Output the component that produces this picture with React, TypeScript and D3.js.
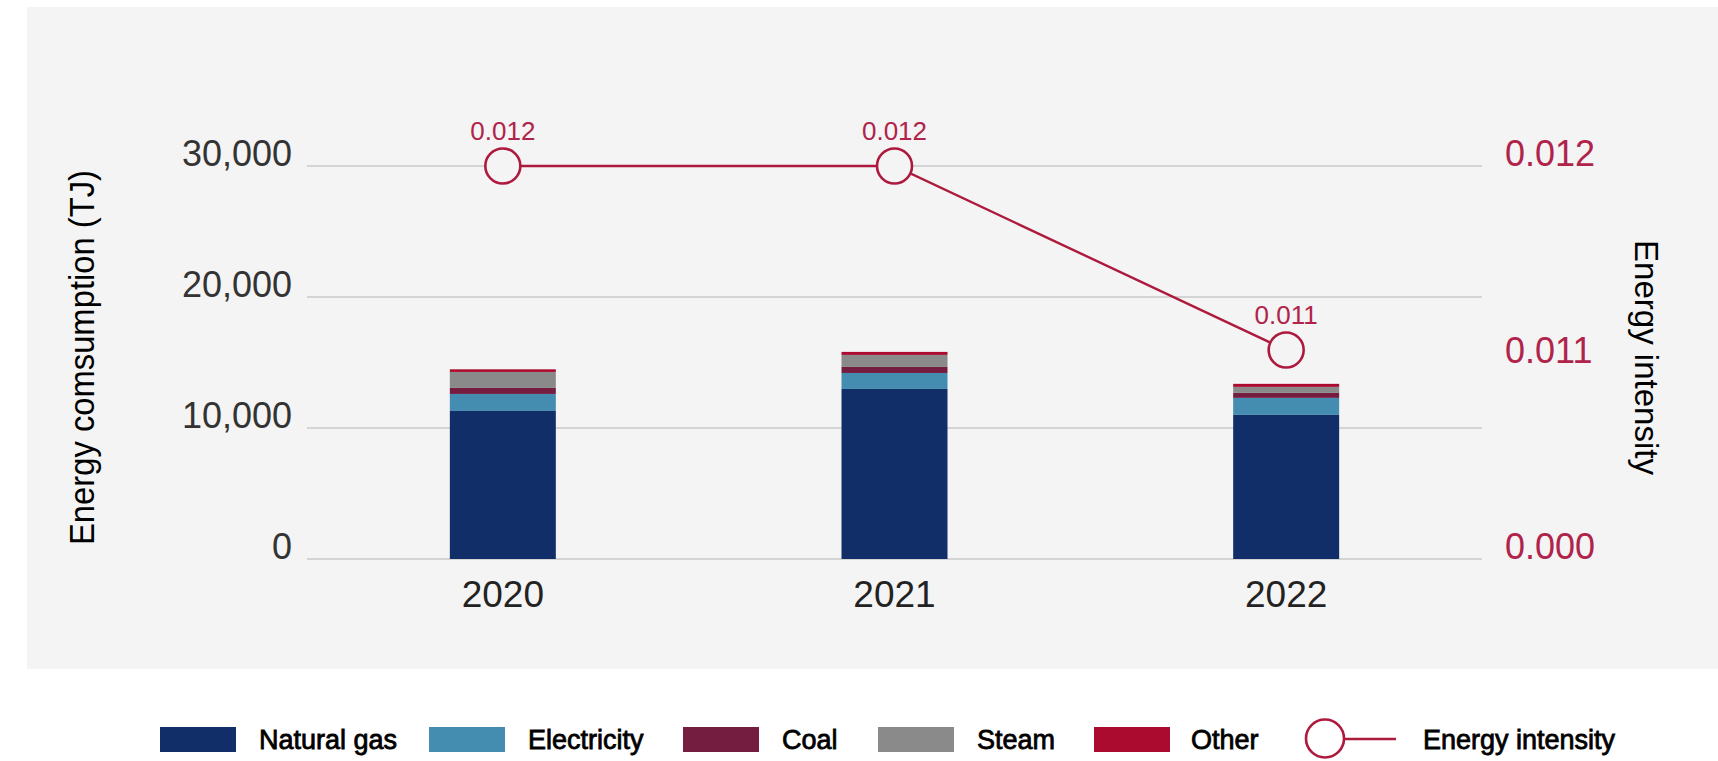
import React from "react";
import * as d3 from "d3";

const years = ["2020", "2021", "2022"];
const naturalGas = [11300, 12980, 11000];
const electricity = [1300, 1220, 1300];
const coal = [460, 460, 380];
const steam = [1220, 920, 460];
const other = [200, 230, 230];
const intensity = [0.012, 0.012, 0.011];
const leftTicks = [0, 10000, 20000, 30000];
const rightTickLabels = ["0.012", "0.011", "0.000"];

const seriesNames = ["Natural gas", "Electricity", "Coal", "Steam", "Other"];
const seriesColors = ["#122e68", "#448cb0", "#741d41", "#8a8a8a", "#aa0b2f"];
const lineColor = "#ad1a3d";

const W = 1718;
const H = 761;
const FONT = "'Liberation Sans', Arial, Helvetica, sans-serif";

export default function App() {
  const x = d3.scaleBand<string>().domain(years).range([307, 1482]).paddingInner(0.7294).paddingOuter(0.3647);
  const y = d3.scaleLinear().domain([0, 30000]).range([559, 166]);
  const yI = d3.scaleLinear().domain([0.011, 0.012]).range([350, 166]);
  const yR = d3.scalePoint<string>().domain(rightTickLabels).range([166, 559]);

  const table = years.map((yr, i) => ({
    year: yr,
    "Natural gas": naturalGas[i],
    Electricity: electricity[i],
    Coal: coal[i],
    Steam: steam[i],
    Other: other[i],
  }));
  const stacked = d3.stack<any>().keys(seriesNames)(table);
  const cx = (yr: string) => (x(yr) as number) + x.bandwidth() / 2;

  const line = d3
    .line<number>()
    .x((_, i) => cx(years[i]))
    .y((d) => yI(d));

  const legendSwatchX = [160, 429, 683, 878, 1094];
  const legendTextX = [259, 528, 782, 977, 1191];

  return (
    <svg
      width={W}
      height={H}
      style={{ position: "absolute", left: 0, top: 0, display: "block" }}
      fontFamily={FONT}
    >
      <rect x={0} y={0} width={W} height={H} fill="#ffffff" />
      <rect x={27} y={7} width={W - 27} height={662} fill="#f4f4f4" />

      {leftTicks.map((t) => (
        <line key={t} x1={307} x2={1482} y1={y(t)} y2={y(t)} stroke="#d4d4d4" strokeWidth={2} />
      ))}

      {leftTicks.map((t) => (
        <text key={t} x={292} y={y(t)} textAnchor="end" fontSize={36} fill="#333333">
          {d3.format(",")(t)}
        </text>
      ))}

      {rightTickLabels.map((t) => (
        <text key={t} x={1505} y={yR(t)} textAnchor="start" fontSize={36} fill="#b0234a">
          {t}
        </text>
      ))}

      <text
        transform={`translate(94,357.5) rotate(-90)`}
        textAnchor="middle"
        fontSize={35}
        fill="#000"
        textLength={375}
        lengthAdjust="spacingAndGlyphs"
      >
        Energy comsumption (TJ)
      </text>
      <text
        transform={`translate(1635,357.5) rotate(90)`}
        textAnchor="middle"
        fontSize={34}
        fill="#000"
        textLength={235}
        lengthAdjust="spacingAndGlyphs"
      >
        Energy intensity
      </text>

      {stacked.map((s, si) => (
        <g key={s.key} fill={seriesColors[si]}>
          {s.map((d, i) => (
            <rect
              key={years[i]}
              x={x(years[i])}
              y={y(d[1])}
              width={x.bandwidth()}
              height={y(d[0]) - y(d[1])}
            />
          ))}
        </g>
      ))}

      {years.map((yr) => (
        <text key={yr} x={cx(yr)} y={607} textAnchor="middle" fontSize={37} fill="#222222">
          {yr}
        </text>
      ))}

      <path d={line(intensity) || ""} fill="none" stroke={lineColor} strokeWidth={2.4} />
      {intensity.map((v, i) => (
        <g key={years[i]}>
          <circle cx={cx(years[i])} cy={yI(v)} r={17.5} fill="#f4f4f4" stroke={lineColor} strokeWidth={2.6} />
          <text x={cx(years[i])} y={yI(v) - 26} textAnchor="middle" fontSize={26} fill="#b0234a">
            {d3.format(".3f")(v)}
          </text>
        </g>
      ))}

      {seriesNames.map((n, i) => (
        <g key={n}>
          <rect x={legendSwatchX[i]} y={727} width={76} height={25} fill={seriesColors[i]} />
          <text x={legendTextX[i]} y={749} fontSize={27} fill="#000" stroke="#000" strokeWidth={0.8}>
            {n}
          </text>
        </g>
      ))}
      <line x1={1345} x2={1396} y1={739} y2={739} stroke={lineColor} strokeWidth={2.4} />
      <circle cx={1325} cy={738.5} r={19} fill="#fff" stroke={lineColor} strokeWidth={2.6} />
      <text x={1423} y={749} fontSize={27} fill="#000" stroke="#000" strokeWidth={0.8}>
        Energy intensity
      </text>
    </svg>
  );
}
